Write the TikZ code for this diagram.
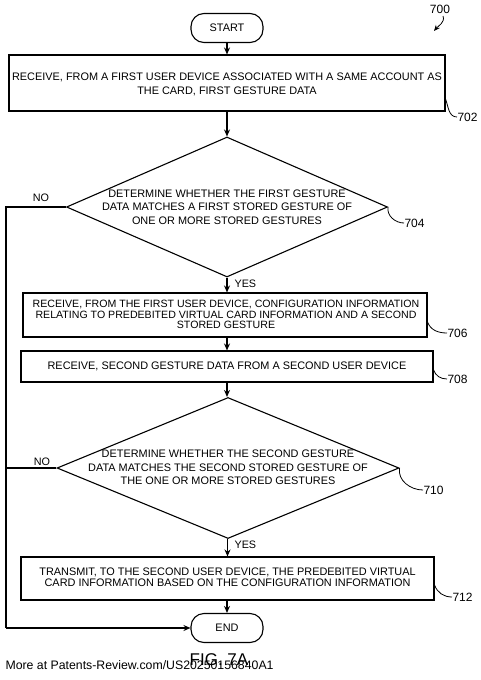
\documentclass[tikz,border=0pt]{standalone}
\usepackage{fontspec}
\setmainfont{Liberation Sans}
\usetikzlibrary{arrows.meta,shapes.geometric}
\begin{document}
\begin{tikzpicture}[x=1pt,y=-1pt,
  line width=1.1pt,
  txt/.style={font=\fontsize{10.9}{12}\selectfont,align=center,inner sep=0pt},
  boxn/.style={draw,rectangle,inner sep=0pt},
  term/.style={draw,rectangle,rounded corners=13pt,inner sep=0pt,minimum width=72pt,minimum height=29pt,font=\fontsize{10.9}{12}\selectfont},
  dia/.style={draw,diamond,inner sep=0pt},
  arr/.style={-{Stealth[length=7pt,width=6pt]}},
  lead/.style={line width=0.8pt},
  ref/.style={font=\fontsize{12}{13}\selectfont,inner sep=0pt},
  yn/.style={font=\fontsize{10.8}{12}\selectfont,inner sep=0pt}
]
\useasboundingbox (0,0) rectangle (481,680);

% terminals
\node[term] (start) at (227,28) {START};
\node[term] (end) at (227,628) {END};

% 702
\node[boxn,minimum width=436pt,minimum height=56pt] (b702) at (227,83) {};
\node[txt,font=\fontsize{10.9}{14}\selectfont] (t702) at (227,84) {RECEIVE, FROM A FIRST USER DEVICE ASSOCIATED WITH A SAME ACCOUNT AS\\THE CARD, FIRST GESTURE DATA};

% 704
\node[dia,minimum width=321pt,minimum height=140pt] (d704) at (227,207) {};
\node[txt,font=\fontsize{10.9}{13.5}\selectfont] (t704) at (227,207) {DETERMINE WHETHER THE FIRST GESTURE\\DATA MATCHES A FIRST STORED GESTURE OF\\ONE OR MORE STORED GESTURES};

% 706
\node[boxn,minimum width=404pt,minimum height=44pt] (b706) at (225,315) {};
\node[txt,font=\fontsize{10.6}{10.6}\selectfont] (t706) at (226,314.5) {RECEIVE, FROM THE FIRST USER DEVICE, CONFIGURATION INFORMATION\\RELATING TO PREDEBITED VIRTUAL CARD INFORMATION AND A SECOND\\STORED GESTURE};

% 708
\node[boxn,minimum width=412pt,minimum height=31pt] (b708) at (227,366.5) {};
\node[txt] (t708) at (227,366) {RECEIVE, SECOND GESTURE DATA FROM A SECOND USER DEVICE};

% 710
\node[dia,minimum width=342pt,minimum height=141pt] (d710) at (228,468) {};
\node[txt,font=\fontsize{10.9}{13.5}\selectfont] (t710) at (228,467.5) {DETERMINE WHETHER THE SECOND GESTURE\\DATA MATCHES THE SECOND STORED GESTURE OF\\THE ONE OR MORE STORED GESTURES};

% 712
\node[boxn,minimum width=413pt,minimum height=43pt] (b712) at (227.5,578.5) {};
\node[txt,font=\fontsize{10.9}{11}\selectfont] (t712) at (227.5,577.5) {TRANSMIT, TO THE SECOND USER DEVICE, THE PREDEBITED VIRTUAL\\CARD INFORMATION BASED ON THE CONFIGURATION INFORMATION};

% main flow
\draw[arr] (start.south) -- (b702.north);
\draw[arr] (b702.south) -- (d704.north);
\draw[arr] (d704.south) -- (b706.north -| d704.south);
\draw[arr] (b706.south -| b708.north) -- (b708.north);
\draw[arr] (b708.south) -- (d710.north -| b708.south);
\draw[arr] (d710.south -| b712.north) -- (b712.north);
\draw[arr] (b712.south -| end.north) -- (end.north);

% yes labels
\node[yn,anchor=west] (y1) at (234,284) {YES};
\node[yn,anchor=west] (y2) at (234,545) {YES};

% no branches
\coordinate (n1) at (6,207);
\coordinate (n2) at (6,468);
\coordinate (n3) at (6,628);
\draw (d704.west) -- (n1) -- (n3);
\draw (d710.west) -- (n2);
\draw[arr] (n3) -- (end.west);
\node[yn] (no1) at (41,198) {NO};
\node[yn] (no2) at (42,462) {NO};

% reference numerals
\node[ref] (l700) at (440,9) {700};
\coordinate (a700) at (434,31);
\draw[lead,-{Stealth[length=6pt,width=5pt]}] (443,16) to[out=-70,in=50] (a700);

\node[ref,anchor=west] (l702) at (457,117) {702};
\draw[lead] (b702.east |- 0,99) to[out=-70,in=180] (l702.west);
\node[ref,anchor=west] (l704) at (404,223) {704};
\draw[lead] (d704.east) to[out=-100,in=180] (l704.west);
\node[ref,anchor=west] (l706) at (447,333) {706};
\draw[lead] (b706.east |- 0,322) to[out=-70,in=180] (l706.west);
\node[ref,anchor=west] (l708) at (447,379) {708};
\draw[lead] (b708.east |- 0,370) to[out=-70,in=180] (l708.west);
\node[ref,anchor=west] (l710) at (423,490) {710};
\draw[lead] (d710.east) to[out=-100,in=180] (l710.west);
\node[ref,anchor=west] (l712) at (452,597) {712};
\draw[lead] (b712.east |- 0,585) to[out=-70,in=180] (l712.west);

% caption and footer
\node[font=\fontsize{17}{18}\selectfont,inner sep=0pt] (fig) at (219,660) {FIG. 7A};
\node[font=\fontsize{12.3}{14}\selectfont,inner sep=0pt,anchor=west] (wm) at (5,665) {More at Patents-Review.com/US20250156840A1};
\end{tikzpicture}
\end{document}
